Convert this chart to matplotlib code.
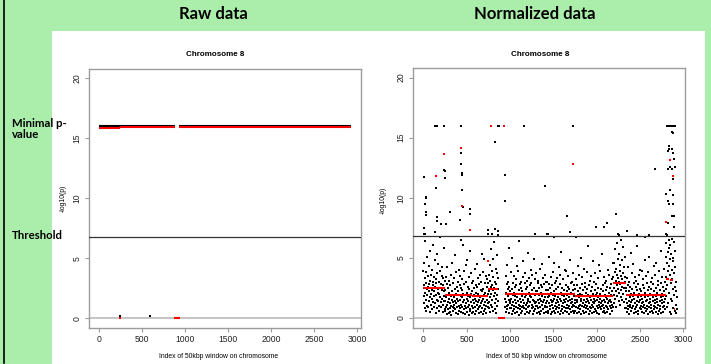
import matplotlib

matplotlib.use("Agg")
import matplotlib.pyplot as plt
import numpy as np
from matplotlib.lines import Line2D
from matplotlib.patches import Rectangle

FIG_W, FIG_H = 711, 364
GREEN = "#abeeab"
BOX_GREY = "#9c9c9c"
R_FONT = "Liberation Sans"
SLIDE_FONT = "Lato"
DOT = 3.0
BULK_DOT = 4.2

x_ticks = [0, 500, 1000, 1500, 2000, 2500, 3000]
y_ticks = [0, 5, 10, 15, 20]
threshold = 6.8

# ---- raw data: runs of -log10(p) per 50 kbp window ----
raw_run_start = [0, 930]
raw_run_end = [880, 2928]
raw_run_value = [16.0, 16.0]
raw_low_x = [244, 593]
raw_low_y = [0.15, 0.15]
raw_seg_start = [0, 250, 930, 872]
raw_seg_end = [250, 880, 2928, 942]
raw_seg_level = [15.88, 15.95, 15.95, 0.0]
raw_red_x = [246]
raw_red_y = [0.06]

# ---- normalized data: bulk of windows, one value every 3rd window ----
window_step = 3
block_start = [0, 250, 558, 750, 943, 1750, 2193, 2336, 2797]
block_a = [3.9, 1.8, 4.6, 2.7, 1.2, 0.8, 3.3, 2.1, 6.4, 1.5, 2.9, 0.6, 3.8, 1.9, 2.4, 5.1, 1.0, 2.6, 3.5, 0.9,
           2.2, 4.3, 1.4, 2.8, 0.5, 3.1, 1.7, 5.6, 2.0, 1.1, 3.6, 2.5, 0.7, 4.0, 1.6, 2.3, 3.0, 1.3, 6.1, 2.7,
           0.9, 1.8, 3.4, 2.2, 4.8, 1.2, 2.6, 0.4, 3.2, 1.9, 2.9, 5.3, 1.5, 0.8, 3.7, 2.1, 1.4, 4.5, 2.4, 1.0,
           3.0, 0.6, 2.0, 3.9, 1.7, 2.5, 6.7, 1.3, 2.8, 0.9, 3.5, 1.6, 4.2, 2.3, 1.1, 2.7, 0.5, 3.3, 1.8, 5.8,
           2.2, 1.4, 3.1, 0.7]
block_b = [1.4, 0.6, 2.3, 3.4, 0.9, 1.7, 0.3, 2.8, 1.1, 4.2, 1.9, 0.7, 2.5, 1.3, 0.4, 3.1, 1.6, 2.1, 0.8, 1.2,
           2.7, 0.5, 1.8, 1.0, 3.6, 0.2, 1.5, 2.2, 4.6, 0.9, 1.3, 2.9, 0.6, 1.7, 3.3, 1.1, 0.8, 2.4, 5.2, 1.4,
           0.7, 2.0, 1.2, 3.8, 0.4, 1.6, 2.6, 0.9, 1.9, 3.0, 0.3, 1.4, 2.2, 4.0, 1.0, 0.6, 2.7, 1.5, 3.5, 0.8,
           1.8, 2.5, 0.5, 1.1, 3.2, 1.7, 0.9, 2.3, 6.1, 0.4, 1.3, 2.0, 0.7, 3.9, 1.5, 2.8, 1.0, 0.3, 1.9, 4.4,
           1.2, 0.8, 3.0, 1.6, 2.1, 0.5, 4.8, 1.4, 0.9, 2.6, 1.8, 0.2, 3.4, 1.1, 2.4, 0.7, 1.7, 5.6, 0.6, 2.0,
           3.7, 1.3]
block_c = [0.4, 2.2, 1.0, 2.9, 0.8, 1.5, 3.1, 0.5, 1.9, 2.5, 1.2, 4.1, 0.9, 1.6, 0.3, 2.7, 1.4, 2.1, 0.6, 1.8,
           2.6, 1.1, 4.5, 0.7, 1.3, 3.3, 2.0, 0.4, 1.5, 2.8, 0.9, 1.7, 3.6, 1.0, 2.3, 0.5, 1.2, 3.0, 5.3, 1.4,
           2.2, 0.8, 3.8, 1.6, 0.3, 2.4, 1.1, 4.9, 1.9, 0.6, 2.9, 1.3, 0.7, 2.1, 3.5, 1.0, 1.8, 0.4, 2.6, 1.5,
           3.2, 0.9, 1.2, 2.0]
block_d = [2.9, 1.3, 3.6, 0.8, 2.2, 4.4, 1.7, 0.5, 3.1, 2.6, 5.7, 1.1, 2.0, 3.9, 0.9, 2.7, 1.5, 4.9, 2.3, 0.6,
           3.4, 1.8, 2.5, 6.3, 1.2, 3.0, 0.7, 2.1, 4.1, 1.6, 2.8, 0.4, 3.7, 1.9, 5.2, 1.0, 2.4, 3.3, 1.4]
block_f = [0.9, 1.6, 3.5, 2.1, 0.5, 1.3, 2.8, 1.0, 4.4, 0.7, 1.8, 2.4, 1.1, 3.0, 0.4, 1.5, 2.6, 5.8, 1.2, 0.8,
           2.2, 1.4, 0.8, 3.8, 1.6, 0.3, 2.4, 1.1, 5.0, 1.9, 0.6, 2.9, 1.3, 0.7, 2.1, 3.5, 1.0, 1.8, 0.4, 2.6,
           1.5, 3.2, 0.9, 1.2, 2.7, 0.5, 4.3, 1.7, 2.0, 0.8, 3.9, 1.4, 0.2, 2.3, 1.1, 6.4, 0.7, 1.6, 2.8, 1.0,
           0.4, 2.5, 1.3, 3.0, 0.9, 1.8, 2.2, 0.6, 4.7, 1.5, 1.0, 3.4, 2.0, 0.8, 1.2, 2.9, 0.3, 1.7, 3.7, 1.1,
           2.4, 0.7, 1.9, 1.2, 3.1, 0.5, 2.6, 1.4, 0.9, 5.4, 1.6, 2.1, 0.4, 3.3, 1.0, 1.8, 2.7, 0.6, 1.3, 4.0,
           1.7, 2.9, 0.8, 1.1, 2.3, 3.6, 0.3, 1.5, 2.0, 0.9, 1.4, 4.9, 0.6, 2.5, 1.2, 3.2, 1.9, 0.7, 2.2, 1.0,
           3.7, 1.3, 0.4, 2.2, 1.0, 2.9, 0.8, 1.5, 3.1, 0.5, 1.9, 2.5, 1.2, 4.1, 0.9, 1.6, 0.3, 2.7, 1.4, 2.1,
           0.6, 1.8, 2.6, 1.1, 4.5, 0.7, 1.3, 3.3, 2.0, 0.4, 1.5, 2.8, 0.9, 1.7, 3.6, 1.0, 2.3, 0.5, 1.2, 3.0,
           2.0, 0.9, 1.4, 3.0, 0.6, 2.3, 1.7, 0.4, 2.8, 1.2, 5.1, 1.8, 0.7, 2.5, 1.0, 3.4, 1.5, 0.3, 2.1, 1.3,
           1.1, 2.7, 0.5, 1.9, 3.8, 0.8, 1.4, 2.2, 0.6, 4.6, 1.6, 1.0, 2.9, 0.4, 1.8, 3.1, 1.2, 0.7, 2.4, 1.5,
           3.3, 0.9, 1.7, 2.6, 0.5, 1.3, 4.2, 2.0, 0.8, 1.1, 2.8, 0.3, 1.6, 3.6, 1.4, 0.6, 2.1, 5.5, 1.0, 1.9,
           0.7, 2.5, 1.2, 0.4, 3.2, 1.8, 2.3, 0.9, 1.5, 4.0, 0.6, 2.0, 1.3, 2.7, 0.8, 1.6, 3.9, 1.1, 0.5, 2.2,
           1.9, 0.8, 2.6, 1.4, 3.5, 0.3, 1.7, 1.0, 2.4, 4.8, 0.7, 1.5, 2.9, 1.2, 0.5, 2.1, 3.0, 1.6, 0.9, 1.3,
           2.3, 1.1, 0.6, 3.7, 1.8, 0.4, 2.7, 1.0, 1.5]
block_g = [1.2, 2.4, 0.6, 1.8, 3.2, 0.9, 1.5, 2.7, 0.4, 1.3, 4.3, 1.9, 0.8, 2.2, 1.0, 3.6, 0.5, 1.7, 2.5, 1.1,
           0.7, 2.0, 1.4, 5.0, 0.3, 1.6, 2.8, 1.0, 1.9, 3.4, 0.6, 1.2, 2.3, 0.9, 4.1, 1.5, 0.4, 2.6, 1.8, 1.1,
           2.9, 0.8, 1.3, 2.1, 0.5, 3.8, 1.6, 1.0, 2.4, 0.7, 1.4, 6.0, 1.9, 0.3, 2.7, 1.2, 0.9, 3.1, 1.7, 0.6,
           1.5, 2.2, 0.8, 3.5, 1.1, 1.8, 0.4, 2.6, 1.3, 4.7, 0.9, 2.0, 1.6, 0.5, 3.0, 1.2, 2.3, 0.7, 1.4, 3.7,
           0.6, 1.9, 2.8, 1.0, 0.4, 2.1, 1.5, 3.3, 0.8, 1.7, 2.5, 1.1, 4.4, 0.3, 1.3, 2.0, 0.9, 1.6, 3.9, 1.2,
           2.4, 0.7, 1.8, 1.0, 5.3, 1.4, 0.5, 2.7, 1.1, 2.2, 0.8, 3.4, 1.5, 0.6, 1.9, 2.9, 1.3, 0.4, 2.3, 1.7,
           1.0, 3.1, 0.9, 1.6, 2.6, 0.5, 1.2, 4.0, 1.8, 0.7, 2.1, 1.4, 3.6, 0.3, 1.5, 2.5, 1.0, 0.8, 1.9, 2.8,
           1.3, 0.6, 2.2, 3.2, 1.1, 4.6, 0.9]
block_h = [3.4, 1.9, 4.6, 2.5, 1.2, 3.8, 2.9, 5.7, 1.6, 3.1, 2.2, 4.1, 0.9, 3.6, 2.7, 6.2, 1.8, 3.3, 2.4, 4.9,
           1.4, 3.0, 5.3, 2.1, 3.9, 1.1, 2.8, 4.4, 2.3, 3.5, 6.5, 1.7, 3.2, 2.6, 4.8, 1.5, 2.0, 3.7, 5.9, 2.9,
           1.3, 4.2, 2.5, 3.4, 0.8, 3.0, 5.1, 2.2]
block_i = [1.6, 0.8, 2.5, 1.2, 3.3, 0.5, 1.9, 2.7, 1.0, 4.2, 0.7, 1.4, 2.2, 0.3, 3.0, 1.7, 1.1, 2.6, 0.9, 5.4,
           1.3, 2.0, 0.6, 3.7, 1.5, 2.4, 0.8, 1.8, 4.5, 1.0, 0.4, 2.9, 1.6, 2.1, 0.7, 3.4, 1.2, 1.9, 0.5, 2.6,
           3.1, 0.9, 1.4, 2.3, 6.0, 1.1, 0.6, 2.8, 1.7, 0.3, 3.6, 1.3, 2.0, 0.8, 1.5, 4.0, 2.4, 1.0, 0.7, 1.8,
           2.2, 1.2, 3.9, 0.5, 1.6, 2.7, 0.9, 1.3, 3.2, 1.9, 0.4, 2.5, 1.1, 4.8, 0.8, 1.7, 2.1, 0.6, 3.5, 1.4,
           1.0, 2.9, 0.7, 1.5, 2.3, 0.3, 3.8, 1.8, 1.2, 2.6, 0.9, 5.1, 1.6, 0.5, 2.0, 1.3, 3.0, 0.8, 2.4, 1.1,
           1.9, 0.6, 3.3, 1.4, 2.8, 0.4, 1.7, 4.3, 1.0, 2.2, 0.7, 1.5, 3.6, 1.2, 0.9, 2.5, 1.8, 0.5, 4.6, 1.3,
           2.1, 0.8, 1.6, 3.1, 0.3, 2.7, 1.1, 1.9, 0.6, 3.9, 1.4, 2.3, 1.0, 0.7, 2.9, 1.7, 5.6, 0.4, 1.5, 2.0,
           1.2, 3.4, 0.9, 1.8, 2.6, 0.5, 1.3, 4.1, 2.2, 1.0, 0.7, 3.0, 1.6, 2.4]
block_j = [6.2, 3.4, 5.1, 1.8, 4.6, 0.9, 6.8, 2.7, 5.5, 3.9, 1.2, 4.3, 6.5, 2.1, 5.8, 0.5, 3.6, 4.9, 6.1, 1.6,
           2.9, 5.3, 0.3, 4.0, 6.6, 1.4, 3.2, 5.0, 2.4, 0.8, 4.7, 6.3, 1.9, 3.7, 0.6, 5.6, 2.6, 4.2, 1.1, 3.0,
           0.4, 2.2, 1.7, 0.7]
blocks = [block_a, block_b, block_c, block_d, block_f, block_g, block_h, block_i, block_j]

# windows standing out of the bulk (read one by one)
out_x = [140, 146, 152, 158, 242, 435, 866, 872, 1158, 1724, 1728,
         2812, 2820, 2828, 2836, 2844, 2852, 2860, 2868, 2876, 2884, 2892, 2900,
         824, 435, 435, 242, 246, 441, 441, 5, 246, 939, 1404, 144, 445, 27, 35, 16, 453, 939,
         27, 27, 543, 543, 308, 154, 154, 262, 204, 427, 12, 131, 12, 24, 750, 831, 858, 747,
         793, 866, 1289, 1431, 432,
         2874, 2876, 2835, 2835, 2866, 2877, 2823, 2889, 2850, 2827, 2866, 2900, 2674, 2877,
         2847, 2797, 2885, 2820, 2839, 2885, 2866, 2893, 1658, 2224, 2820, 2889, 2124, 1993,
         2081, 1697, 2355, 2251, 2262, 1435, 1512, 1766, 2466, 2555, 2600, 2797, 2812]
out_y = [16.0, 16.0, 16.0, 16.0, 16.0, 16.0, 16.0, 16.0, 16.0, 16.0, 16.0,
         16.0, 16.0, 16.0, 16.0, 16.0, 16.0, 16.0, 16.0, 16.0, 16.0, 16.0, 16.0,
         14.65, 13.69, 12.8, 12.33, 12.25, 12.1, 11.9, 11.75, 11.66, 11.91, 10.97, 10.8, 10.64,
         10.08, 9.95, 9.45, 9.2, 9.75,
         8.81, 8.58, 9.03, 8.67, 8.78, 8.36, 8.1, 7.84, 7.84, 8.11, 7.45, 7.15, 7.0, 6.96, 7.3,
         7.44, 7.25, 6.96, 6.96, 6.87, 7.0, 6.99, 6.5,
         15.46, 15.4, 14.32, 14.05, 14.05, 13.7, 13.9, 13.24, 12.55, 12.4, 12.4, 12.55, 12.38,
         11.55, 10.66, 10.28, 10.2, 9.75, 9.45, 9.45, 8.5, 8.5, 8.5, 8.67, 7.86, 7.54, 7.9, 7.54,
         7.54, 7.13, 7.23, 7.0, 6.87, 6.99, 6.77, 6.77, 6.87, 6.7, 6.87, 7.0, 6.9]

# red: segment levels and single-window segments
seg_start = [0, 250, 558, 750, 866, 943, 1750, 2193, 2336, 2797, 2835, 2851, 2866, 2893, 140]
seg_end = [250, 558, 750, 866, 943, 1750, 2193, 2336, 2797, 2835, 2858, 2882, 2897, 2908, 160]
seg_level = [2.47, 1.94, 1.8, 2.4, 0.0, 1.95, 1.83, 2.9, 1.88, 3.27, 13.16, 3.13, 11.83, 0.77, 11.83]
red_x = [781, 935, 435, 242, 445, 543, 750, 1724, 2797]
red_y = [16.0, 16.0, 14.16, 13.63, 9.33, 7.28, 4.7, 12.77, 8.0]


def fx(px):
    return px / FIG_W


def fy(py):
    return 1 - py / FIG_H


def style_r_axes(ax, xlim):
    ax.set_xlim(*xlim)
    ax.set_ylim(-0.8, 20.8)
    ax.set_xticks(x_ticks)
    ax.set_yticks(y_ticks)
    for spine in ax.spines.values():
        spine.set_color(BOX_GREY)
        spine.set_linewidth(1.0)
    ax.tick_params(direction="out", length=3, width=0.8, color=BOX_GREY,
                   labelsize=6.2, labelcolor="#222222", pad=2.2)
    ax.tick_params(axis="y", labelrotation=90)
    for lab in ax.get_yticklabels():
        lab.set_va("center")
    ax.axhline(0, color="#c4c4c4", lw=1.4, zorder=1)
    ax.axhline(threshold, color="#333333", lw=0.9, zorder=4)


plt.rcParams["font.family"] = R_FONT

fig = plt.figure(figsize=(FIG_W / 100, FIG_H / 100), dpi=100)
fig.patch.set_facecolor(GREEN)
fig.patches.append(Rectangle((fx(52), 0), fx(705) - fx(52), fy(31), transform=fig.transFigure,
                             facecolor="white", edgecolor="none", zorder=-1))
fig.lines.append(Line2D([fx(3.5), fx(3.5)], [fy(363), 1.0], transform=fig.transFigure,
                        color="black", lw=1.2))

ax_raw = fig.add_axes([fx(89), fy(327.9), fx(272), 259.2 / FIG_H])
ax_norm = fig.add_axes([fx(413), fy(327.5), fx(272), 259.5 / FIG_H])

# raw panel
style_r_axes(ax_raw, (-116, 3047))
ax_raw.hlines(raw_run_value, raw_run_start, raw_run_end, color="black", lw=1.5, zorder=2)
ax_raw.scatter(raw_low_x, raw_low_y, s=DOT, marker="s", color="black", linewidths=0, zorder=2)
ax_raw.hlines(raw_seg_level, raw_seg_start, raw_seg_end, color="red", lw=1.5, zorder=3)
ax_raw.scatter(raw_red_x, raw_red_y, s=DOT, marker="s", color="red", linewidths=0, zorder=3)

# normalized panel
style_r_axes(ax_norm, (-119, 3020))
for start, vals in zip(block_start, blocks):
    xs = start + window_step * np.arange(len(vals))
    ax_norm.scatter(xs, vals, s=BULK_DOT, marker="s", color="black", linewidths=0, zorder=2)
ax_norm.scatter(out_x, out_y, s=DOT, marker="s", color="black", linewidths=0, zorder=2)
ax_norm.hlines(seg_level, seg_start, seg_end, color="red", lw=1.5, zorder=3)
ax_norm.scatter(red_x, red_y, s=DOT, marker="s", color="red", linewidths=0, zorder=3)

# R panel titles and axis labels
for cx, title in [(215, "Chromosome 8"), (540, "Chromosome 8")]:
    fig.text(fx(cx), fy(55), title, ha="center", va="center", fontsize=5.8, fontweight="bold")
fig.text(fx(219), fy(357), "Index of 50kbp window on chromosome", ha="center", va="center", fontsize=4.9)
fig.text(fx(547), fy(357), "Index of 50 kbp window on chromosome", ha="center", va="center", fontsize=4.9)
fig.text(fx(63), fy(198), "-log10(p)", ha="center", va="center", rotation=90, fontsize=4.9)
fig.text(fx(383), fy(200), "-log10(p)", ha="center", va="center", rotation=90, fontsize=4.9)

# slide texts
fig.text(fx(213), fy(19), "Raw data", ha="center", va="baseline", fontsize=12,
         fontweight="bold", family=SLIDE_FONT)
fig.text(fx(535), fy(19), "Normalized data", ha="center", va="baseline", fontsize=12,
         fontweight="bold", family=SLIDE_FONT)
fig.text(fx(12), fy(126.7), "Minimal p-", ha="left", va="baseline", fontsize=8.2,
         fontweight="bold", family=SLIDE_FONT)
fig.text(fx(12), fy(137.7), "value", ha="left", va="baseline", fontsize=8.2,
         fontweight="bold", family=SLIDE_FONT)
fig.text(fx(12), fy(239.3), "Threshold", ha="left", va="baseline", fontsize=8.2,
         fontweight="bold", family=SLIDE_FONT)

fig.savefig("out.png", dpi=100, facecolor=fig.get_facecolor())
